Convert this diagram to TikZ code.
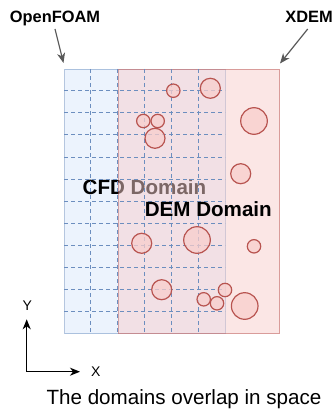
\documentclass[tikz,border=0pt]{standalone}
\usepackage{fontspec}
\setmainfont{Liberation Sans}
\usetikzlibrary{arrows.meta}
\definecolor{cfdfill}{HTML}{DAE8FC}
\definecolor{cfdline}{HTML}{6C8EBF}
\definecolor{demfill}{HTML}{F8CECC}
\definecolor{demline}{HTML}{B85450}
\definecolor{pointer}{HTML}{595959}
\tikzset{
  domainbox/.style={rectangle, anchor=north west, minimum width=161pt, minimum height=264pt, inner sep=0pt, line width=1pt, fill opacity=0.5, draw opacity=0.5},
  gridline/.style={draw=cfdline, line width=1pt, dash pattern=on 4pt off 3pt},
  particle/.style={circle, inner sep=0pt, draw=demline, fill=demfill, fill opacity=0.75, line width=1.2pt},
  bigtitle/.style={font=\fontsize{20.6}{24}\selectfont\bfseries, inner sep=0pt, anchor=base},
  tooltitle/.style={font=\fontsize{16.4}{19}\selectfont\bfseries, inner sep=0pt, anchor=base},
  axislabel/.style={font=\fontsize{14}{16}\selectfont, inner sep=0pt, anchor=base},
  pointerarrow/.style={draw=pointer, line width=1.2pt, -{Stealth[length=10pt,width=8pt,inset=3pt]}},
  axisarrow/.style={draw=black, line width=1.2pt, -{Stealth[length=10pt,width=8pt,inset=3pt]}}
}
\begin{document}
\begin{tikzpicture}[x=1pt,y=-1pt]
\useasboundingbox (0,0) rectangle (335,414);
% CFD domain
\node[domainbox, draw=cfdline, fill=cfdfill] (cfd) at (64,69) {};
\node[bigtitle] (cfdtext) at (144.5,194) {CFD Domain};
% DEM domain
\node[domainbox, draw=demline, fill=demfill] (dem) at (118,69) {};
% grid
\foreach \i in {1,...,5} {
  \draw[gridline] ({64+26.83*\i},69) -- ({64+26.83*\i},333);
}
\foreach \j in {1,...,11} {
  \draw[gridline] (64,{69+22*\j}) -- (225,{69+22*\j});
}
% particles
\foreach \n/\x/\y/\r in {p1/173.3/90.7/6.7, p2/210.3/88.3/10, p3/254/121/13.3, p4/143.3/121/6.7, p5/157.7/121/6.7, p6/155/138.3/10, p7/240.7/173.7/10, p8/141.7/243.3/10, p9/197/240/13.3, p10/254/246.3/6.7, p11/161.7/289.7/10, p12/203.7/299.3/6.7, p13/217/303.3/6.7, p14/225/290/6.7, p15/244.7/306/13.3} {
  \node[particle, minimum size={2*\r pt}] (\n) at (\x,\y) {};
}
\node[bigtitle] (demtext) at (208.3,216.7) {DEM Domain};
% tool labels
\node[tooltitle] (openfoam) at (55,22.7) {OpenFOAM};
\node[tooltitle] (xdem) at (309,22.7) {XDEM};
\coordinate (ofstart) at (55,29);
\coordinate (ofend) at (63.5,63);
\coordinate (xdstart) at (307.7,29);
\coordinate (xdend) at (280,63.5);
\draw[pointerarrow] (ofstart) -- (ofend);
\draw[pointerarrow] (xdstart) -- (xdend);
% axes
\coordinate (origin) at (26.7,371.7);
\coordinate (ytip) at (26.7,319.3);
\coordinate (xtip) at (80,371.7);
\draw[axisarrow] (origin) -- (ytip);
\draw[axisarrow] (origin) -- (xtip);
\node[axislabel] (ylabel) at (27.3,310) {Y};
\node[axislabel] (xlabel) at (95.7,376.7) {X};
\node[font=\fontsize{20.6}{24}\selectfont, inner sep=0pt, anchor=base] (caption) at (184,404) {The domains overlap in space};
\end{tikzpicture}
\end{document}
